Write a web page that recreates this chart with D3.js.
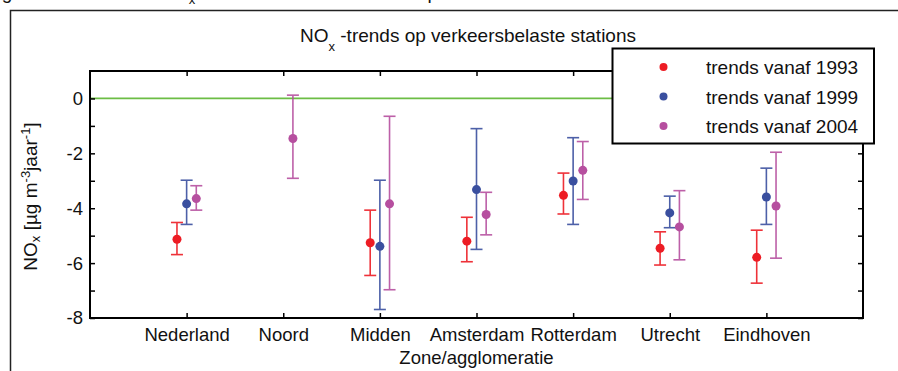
<!DOCTYPE html>
<html>
<head>
<meta charset="utf-8">
<script src="https://cdn.jsdelivr.net/npm/d3@7"></script>
<style>
  body { margin: 0; background: #fff; }
  svg { display: block; font-family: "Liberation Sans", Arial, Helvetica, sans-serif; }
</style>
</head>
<body>
<div id="chart"></div>
<script>
const categories = ['Nederland', 'Noord', 'Midden', 'Amsterdam', 'Rotterdam', 'Utrecht', 'Eindhoven'];
const seriesNames = ['trends vanaf 1993', 'trends vanaf 1999', 'trends vanaf 2004'];

// trend values and error bar ends (µg m-3 jaar-1), null = no data
const trend1993 = [-5.13, null, -5.26, -5.20, -3.53, -5.46, -5.79];
const high1993  = [-4.52, null, -4.07, -4.33, -2.72, -4.86, -4.80];
const low1993   = [-5.69, null, -6.45, -5.95, -4.21, -6.07, -6.73];

const trend1999 = [-3.84, null, -5.39, -3.32, -3.01, -4.17, -3.59];
const high1999  = [-2.98, null, -2.98, -1.10, -1.43, -3.56, -2.54];
const low1999   = [-4.59, null, -7.69, -5.50, -4.59, -4.71, -4.59];

const trend2004 = [-3.65, -1.46, -3.84, -4.23, -2.62, -4.68, -3.92];
const high2004  = [-3.18,  0.12, -0.65, -3.42, -1.57, -3.36, -1.96];
const low2004   = [-4.07, -2.91, -6.97, -4.97, -3.68, -5.88, -5.82];

const yTicks = [-8, -7, -6, -5, -4, -3, -2, -1, 0];

const width = 898, height = 371;
const plot = { left: 90, right: 863, top: 71, bottom: 318 };
const colors = ['#ed1c24', '#3a4f9f', '#b64f9f'];
const offsets = [-0.1, 0, 0.1];

const svg = d3.select('#chart').append('svg')
  .attr('width', width)
  .attr('height', height);

// outer figure frame
svg.append('rect')
  .attr('x', 10.5).attr('y', 10.5)
  .attr('width', 950).attr('height', 400)
  .attr('fill', 'none').attr('stroke', '#222').attr('stroke-width', 1.5);

// caption above the frame, cut off by the top edge as in the original
const cap = svg.append('text').attr('x', -14).attr('y', -1).attr('font-size', 19).attr('fill', '#111');
cap.append('tspan').text('Figuur 4.6 Trends in NO');
cap.append('tspan').attr('font-size', 13).attr('dy', 5).text('x');
cap.append('tspan').attr('dy', -5).text('-concentraties in de laatste periode');

const x = d3.scaleLinear().domain([0, 8]).range([plot.left, plot.right]);
const y = d3.scaleLinear().domain([-8, 1]).range([plot.bottom, plot.top]);

// zero line
svg.append('line')
  .attr('x1', x(0)).attr('x2', x(8))
  .attr('y1', y(0)).attr('y2', y(0))
  .attr('stroke', '#6cbd45').attr('stroke-width', 1.8);

const catIdx = d3.range(1, categories.length + 1);

const gL = svg.append('g').attr('transform', `translate(${plot.left},0)`)
  .call(d3.axisLeft(y).tickValues(yTicks).tickSize(-5).tickPadding(7)
    .tickFormat(d => d % 2 === 0 ? d : ''));
const gR = svg.append('g').attr('transform', `translate(${plot.right},0)`)
  .call(d3.axisRight(y).tickValues(yTicks).tickSize(-5).tickFormat(''));
const gB = svg.append('g').attr('transform', `translate(0,${plot.bottom})`)
  .call(d3.axisBottom(x).tickValues(catIdx).tickSize(-5).tickPadding(9.5)
    .tickFormat(i => categories[i - 1]));
const gT = svg.append('g').attr('transform', `translate(0,${plot.top})`)
  .call(d3.axisTop(x).tickValues(catIdx).tickSize(-5).tickFormat(''));

[gL, gR, gB, gT].forEach(g => {
  g.select('.domain').remove();
  g.selectAll('.tick line').attr('stroke', '#000').attr('stroke-width', 1.5);
  g.selectAll('.tick text').attr('font-size', 18.5).attr('fill', '#111')
    .attr('font-family', '"Liberation Sans", Arial, sans-serif');
});

// axes box
svg.append('rect')
  .attr('x', plot.left).attr('y', plot.top)
  .attr('width', plot.right - plot.left).attr('height', plot.bottom - plot.top)
  .attr('fill', 'none').attr('stroke', '#000').attr('stroke-width', 2);

// error bars + points
const series = [
  { vals: trend1993, hi: high1993, lo: low1993 },
  { vals: trend1999, hi: high1999, lo: low1999 },
  { vals: trend2004, hi: high2004, lo: low2004 }
];

series.forEach((s, si) => {
  const pts = categories.map((c, i) => ({ i: i + 1, v: s.vals[i], hi: s.hi[i], lo: s.lo[i] }))
    .filter(d => d.v !== null);
  const g = svg.append('g');
  const cx = d => x(d.i + offsets[si]);
  const bars = g.selectAll('g.eb').data(pts).enter().append('g')
    .attr('stroke', colors[si]).attr('stroke-width', 1.6).attr('opacity', 0.9);
  bars.append('line')
    .attr('x1', cx).attr('x2', cx)
    .attr('y1', d => y(d.hi)).attr('y2', d => y(d.lo));
  bars.append('line')
    .attr('x1', d => cx(d) - 6).attr('x2', d => cx(d) + 6)
    .attr('y1', d => y(d.hi)).attr('y2', d => y(d.hi));
  bars.append('line')
    .attr('x1', d => cx(d) - 6).attr('x2', d => cx(d) + 6)
    .attr('y1', d => y(d.lo)).attr('y2', d => y(d.lo));
  g.selectAll('circle').data(pts).enter().append('circle')
    .attr('cx', cx).attr('cy', d => y(d.v))
    .attr('r', 4.5).attr('fill', colors[si]);
});

// title
const title = svg.append('text').attr('x', 300).attr('y', 42).attr('font-size', 19).attr('fill', '#111');
title.append('tspan').text('NO');
title.append('tspan').attr('font-size', 13).attr('dy', 9).text('x');
title.append('tspan').attr('dy', -9).text(' -trends op verkeersbelaste stations');

// x axis label
svg.append('text')
  .attr('x', (plot.left + plot.right) / 2).attr('y', 364)
  .attr('text-anchor', 'middle').attr('font-size', 18.5).attr('fill', '#111')
  .text('Zone/agglomeratie');

// y axis label
const yl = svg.append('text')
  .attr('transform', `translate(37,${(plot.top + plot.bottom) / 2 + 2}) rotate(-90)`)
  .attr('text-anchor', 'middle').attr('font-size', 19).attr('fill', '#111');
yl.append('tspan').text('NO');
yl.append('tspan').attr('font-size', 13).attr('dy', 3).text('x');
yl.append('tspan').attr('dy', -3).text(' [µg m');
yl.append('tspan').attr('font-size', 13).attr('dy', -7).text('-3');
yl.append('tspan').attr('dy', 7).text('jaar');
yl.append('tspan').attr('font-size', 13).attr('dy', -7).text('-1');
yl.append('tspan').attr('dy', 7).text(']');

// legend
const lg = svg.append('g');
lg.append('rect')
  .attr('x', 612.5).attr('y', 48.5).attr('width', 261.5).attr('height', 95)
  .attr('fill', '#fff').attr('stroke', '#000').attr('stroke-width', 2);
const items = lg.selectAll('g.item').data(seriesNames).enter().append('g')
  .attr('transform', (d, i) => `translate(0,${67 + i * 29.5})`);
items.append('circle').attr('cx', 663.5).attr('cy', 0).attr('r', 4)
  .attr('fill', (d, i) => colors[i]);
items.append('text').attr('x', 706).attr('y', 7).attr('font-size', 19).attr('fill', '#111')
  .text(d => d);
</script>
</body>
</html>
